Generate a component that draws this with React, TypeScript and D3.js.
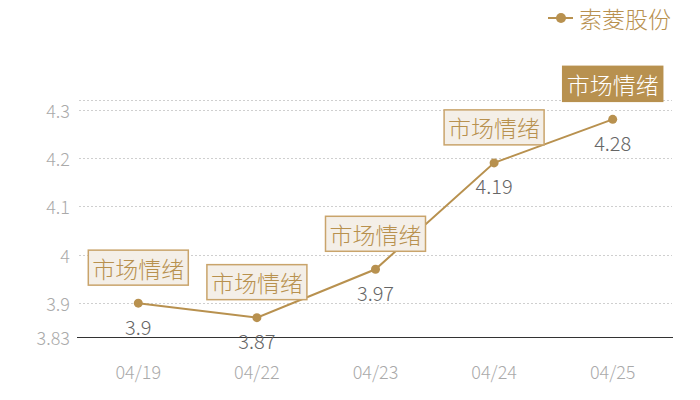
import * as d3 from 'd3';

const DATES = ['04/19', '04/22', '04/23', '04/24', '04/25'];
const VALUES = [3.9, 3.87, 3.97, 4.19, 4.28];
const Y_TICKS = [3.83, 3.9, 4.0, 4.1, 4.2, 4.3];
const SERIES_NAME = '索菱股份';
const TAG_TEXT = '市场情绪';

const GOLD = '#b8914f';
const FONT = '"Noto Sans CJK SC", "Noto Sans", sans-serif';

export default function App() {
  const w = 700;
  const h = 400;
  const margin = { top: 100, right: 28, bottom: 63, left: 79 };
  const innerW = w - margin.left - margin.right;
  const innerH = h - margin.top - margin.bottom;

  const x = d3.scaleBand().domain(DATES).range([0, innerW]);
  const y = d3.scaleLinear().domain([3.83, 4.32]).range([innerH, 0]);

  const cx = (d: string) => (x(d) ?? 0) + x.bandwidth() / 2;

  const line = d3.line<number>()
    .x((_, i) => cx(DATES[i]))
    .y(v => y(v));

  const gridVals = [3.9, 4.0, 4.1, 4.2, 4.3, 4.32];

  return (
    <svg width={w} height={h} style={{ position: 'absolute', left: 0, top: 0 }}>
      <rect width={w} height={h} fill="#fff" />

      {/* Legend */}
      <g transform="translate(548,18)">
        <line x1={0} x2={25} y1={0} y2={0} stroke={GOLD} strokeWidth={2} />
        <circle cx={13} cy={0} r={5} fill={GOLD} />
        <text x={31} y={0} dominantBaseline="central" fontSize={23} fontWeight={300} fontFamily={FONT} fill={GOLD}>
          {SERIES_NAME}
        </text>
      </g>

      <g transform={`translate(${margin.left},${margin.top})`}>
        {/* Grid */}
        {gridVals.map(t => (
          <line
            key={t}
            x1={0} x2={innerW}
            y1={Math.round(y(t)) + 0.5} y2={Math.round(y(t)) + 0.5}
            stroke="#cfcfcf"
            strokeDasharray="2 2"
          />
        ))}

        {/* Y labels */}
        {Y_TICKS.map(t => (
          <text
            key={t}
            x={-9} y={y(t)}
            textAnchor="end" dominantBaseline="central"
            fontSize={18} fontWeight={300} fontFamily={FONT} fill="#aaaaaa"
          >
            {t}
          </text>
        ))}

        {/* Bottom axis */}
        <line x1={-2} x2={innerW + 1} y1={innerH + 0.5} y2={innerH + 0.5} stroke="#333" strokeWidth={1} />

        {/* X labels */}
        {DATES.map(d => (
          <text
            key={d}
            x={cx(d)} y={innerH + 34}
            textAnchor="middle" dominantBaseline="central"
            fontSize={18} fontWeight={300} fontFamily={FONT} fill="#aaaaaa"
          >
            {d}
          </text>
        ))}

        {/* Line */}
        <path d={line(VALUES) ?? ''} fill="none" stroke={GOLD} strokeWidth={2} />

        {VALUES.map((v, i) => {
          const px = cx(DATES[i]);
          const py = y(v);
          const last = i === VALUES.length - 1;
          return (
            <g key={DATES[i]}>
              <circle cx={px} cy={py} r={4.5} fill={GOLD} />
              <text
                x={px} y={py + 23}
                textAnchor="middle" dominantBaseline="central"
                fontSize={20} fontWeight={300} fontFamily={FONT} fill="#666666"
              >
                {v}
              </text>
              <rect
                x={px - 50} y={py - 53}
                width={100} height={35}
                fill={last ? GOLD : '#f4efe8'}
                stroke={last ? GOLD : '#c9a46b'}
                strokeWidth={1.5}
              />
              <text
                x={px} y={py - 35.5}
                textAnchor="middle" dominantBaseline="central"
                fontSize={23} fontWeight={300} fontFamily={FONT} fill={last ? '#ffffff' : GOLD}
              >
                {TAG_TEXT}
              </text>
            </g>
          );
        })}
      </g>
    </svg>
  );
}
